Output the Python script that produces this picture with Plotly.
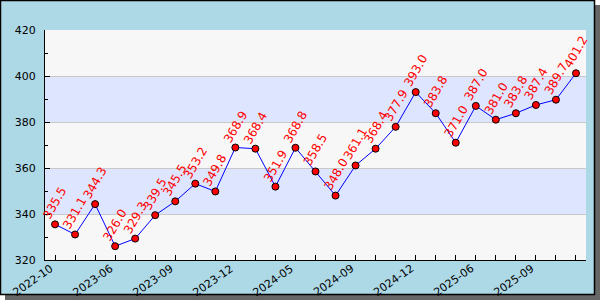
import plotly.graph_objects as go

values = [335.5, 331.1, 344.3, 326.0, 329.3, 339.5, 345.5, 353.2, 349.8,
          368.9, 368.4, 351.9, 368.8, 358.5, 348.0, 361.1, 368.4, 377.9,
          393.0, 383.8, 371.0, 387.0, 381.0, 383.8, 387.4, 389.7, 401.2]
tick_labels = ["2022-10", "2023-06", "2023-09", "2023-12", "2024-05",
               "2024-09", "2024-12", "2025-06", "2025-09"]
label_step = 3

x = list(range(len(values)))

W, H = 600, 300
L, R, T, B = 45, 14, 30, 40
PW, PH = W - L - R, H - T - B


def px(v):
    return (v - L) / PW


def py(v):
    return (H - B - v) / PH


FONT = "DejaVu Sans"

fig = go.Figure()
fig.add_trace(go.Scatter(
    x=x, y=values, mode="lines+markers",
    line=dict(color="blue", width=1),
    marker=dict(color="red", size=7, line=dict(color="black", width=1)),
    hoverinfo="skip", cliponaxis=False,
))

for xi, v in zip(x, values):
    fig.add_annotation(x=xi, y=v, text=f"{v:.1f}", showarrow=False,
                       textangle=-60, xanchor="center", yanchor="middle",
                       yshift=21, font=dict(family=FONT, size=12, color="red"))

# x tick labels (every 3rd point), rotated
for k, lab in enumerate(tick_labels):
    fig.add_annotation(x=k * label_step, y=0, xref="x", yref="paper",
                       text=lab, showarrow=False, textangle=-35,
                       xanchor="center", yanchor="middle", borderpad=0,
                       xshift=-22, yshift=-20.5,
                       font=dict(family=FONT, size=11, color="black"))

shapes = []
# shadow and frame
shapes.append(dict(type="rect", xref="paper", yref="paper", layer="below",
                   x0=px(5), x1=px(600), y0=py(5), y1=py(300),
                   fillcolor="#666666", line=dict(width=0)))
shapes.append(dict(type="rect", xref="paper", yref="paper", layer="below",
                   x0=px(0.5), x1=px(594.5), y0=py(0.5), y1=py(294.5),
                   fillcolor="#ADD8E6", line=dict(color="black", width=1.5)))
# bands
bands = [(320, 340, "#F7F7F7"), (340, 360, "#DDE5FF"), (360, 380, "#F7F7F7"),
         (380, 400, "#DDE5FF"), (400, 420, "#F7F7F7")]
for y0, y1, c in bands:
    shapes.append(dict(type="rect", xref="x domain", yref="y", layer="below",
                       x0=0, x1=1, y0=y0, y1=y1, fillcolor=c,
                       line=dict(width=0)))
fig.update_layout(shapes=shapes)

fig.update_layout(
    width=W, height=H,
    margin=dict(l=L, r=R, t=T, b=B, pad=0, autoexpand=False),
    paper_bgcolor="white", plot_bgcolor="rgba(0,0,0,0)",
    showlegend=False,
    font=dict(family=FONT, size=11, color="black"),
)
fig.update_xaxes(
    range=[-0.5, len(values) - 0.5], automargin=False,
    tickmode="array", tickvals=x, ticktext=[""] * len(x),
    ticks="inside", ticklen=5, tickcolor="black", tickwidth=1,
    showline=True, linecolor="black", linewidth=1,
    showgrid=False, zeroline=False,
)
fig.update_yaxes(
    range=[320, 420], dtick=20, tick0=320, automargin=False,
    ticks="inside", ticklen=5, tickcolor="black", tickwidth=1,
    minor=dict(dtick=10, ticks="inside", ticklen=3, tickcolor="black"),
    showline=True, linecolor="black", linewidth=1,
    showgrid=True, gridcolor="#C8C8C8", gridwidth=1,
    zeroline=False, ticklabelstandoff=6,
)

fig.write_html("out.html")
